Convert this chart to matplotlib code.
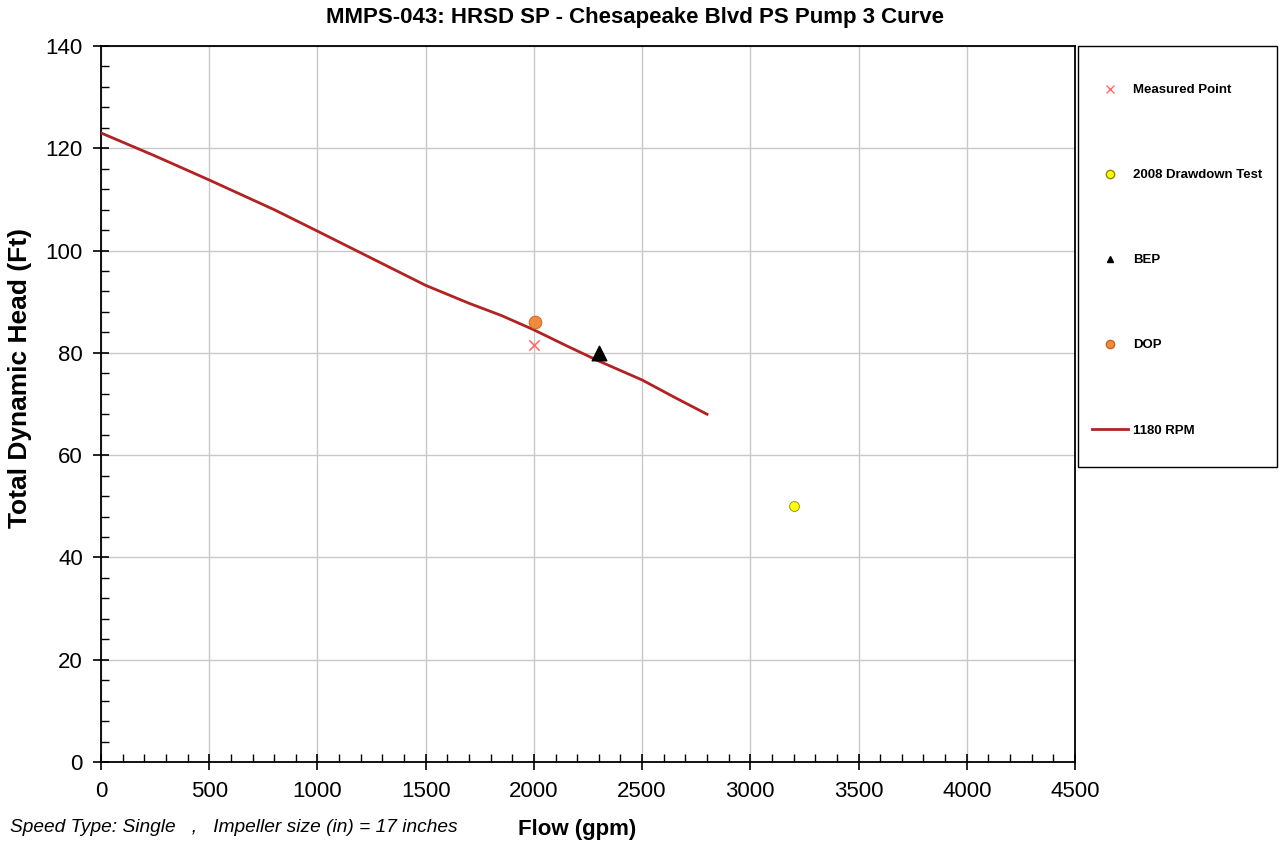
"""Pump curve for MMPS-043 Chesapeake Blvd PS Pump 3."""

import matplotlib

matplotlib.use("Agg")
import matplotlib.pyplot as plt
from matplotlib.lines import Line2D
from matplotlib.patches import Rectangle
from matplotlib.ticker import MultipleLocator

plt.rcParams["font.family"] = ["Liberation Sans", "DejaVu Sans"]

# 1180 RPM curve
curve_flow = [0, 250, 500, 800, 1000, 1250, 1500, 1700, 1850, 2000, 2150, 2300, 2500, 2650, 2800]
curve_head = [123.0, 118.5, 113.8, 108.0, 103.8, 98.5, 93.2, 89.7, 87.3, 84.5, 81.4, 78.4, 74.7, 71.3, 68.0]

measured_flow = [2000]
measured_head = [81.5]

drawdown_flow = [3200]
drawdown_head = [50]

bep_flow = [2300]
bep_head = [80]

dop_flow = [2005]
dop_head = [86]

TITLE = "MMPS-043: HRSD SP - Chesapeake Blvd PS Pump 3 Curve"
FOOTNOTE = "Speed Type: Single   ,   Impeller size (in) = 17 inches"

CURVE_COLOR = "#b22222"
W, H = 1281, 848


def main() -> None:
    fig = plt.figure(figsize=(W / 100, H / 100), dpi=100)
    ax = fig.add_axes([101 / W, 1 - 762 / H, 974 / W, 716 / H])

    ax.plot(curve_flow, curve_head, color=CURVE_COLOR, lw=2, zorder=3)
    ax.scatter(measured_flow, measured_head, marker="x", s=55, color="#ff6b6b", linewidths=1.2, zorder=4)
    ax.scatter(drawdown_flow, drawdown_head, marker="o", s=50, color="#ffff00", edgecolors="#8a8a00", linewidths=0.6, zorder=4)
    ax.scatter(bep_flow, bep_head, marker="^", s=110, color="black", zorder=4)
    ax.scatter(dop_flow, dop_head, marker="o", s=85, color="#f08a3c", edgecolors="#c86420", linewidths=0.6, zorder=4)

    ax.set_xlim(0, 4500)
    ax.set_ylim(0, 140)
    ax.xaxis.set_major_locator(MultipleLocator(500))
    ax.xaxis.set_minor_locator(MultipleLocator(100))
    ax.yaxis.set_major_locator(MultipleLocator(20))
    ax.yaxis.set_minor_locator(MultipleLocator(4))
    ax.tick_params(which="major", direction="inout", length=12, width=1.2, labelsize=16)
    ax.tick_params(which="minor", direction="in", length=6, width=1)
    ax.tick_params(axis="y", which="major", pad=7)
    ax.tick_params(axis="x", which="major", pad=8)
    ax.tick_params(top=False, right=False)
    ax.grid(True, which="major", color="#c8c8c8", lw=1)
    ax.set_axisbelow(True)
    for spine in ax.spines.values():
        spine.set_linewidth(1.3)
        spine.set_color("black")

    fig.text(635 / W, 1 - 18 / H, TITLE, fontsize=16, fontweight="bold", ha="center", va="center")
    fig.text(20 / W, 1 - 378 / H, "Total Dynamic Head (Ft)", fontsize=19, fontweight="bold",
             rotation=90, ha="center", va="center")
    fig.text(577 / W, 1 - 829 / H, "Flow (gpm)", fontsize=16, fontweight="bold", ha="center", va="center")
    fig.text(10 / W, 1 - 828 / H, FOOTNOTE, fontsize=13.8, style="italic", ha="left", va="center")

    # legend frame
    fig.patches.append(Rectangle((1078 / W, 1 - 467 / H), 199 / W, 421 / H, transform=fig.transFigure,
                                 facecolor="white", edgecolor="black", lw=1.0, zorder=1))

    handles = [
        Line2D([], [], ls="none", marker="x", color="#ff6b6b", markersize=6),
        Line2D([], [], ls="none", marker="o", color="#ffff00", markeredgecolor="#8a8a00", markersize=6),
        Line2D([], [], ls="none", marker="^", color="black", markersize=4),
        Line2D([], [], ls="none", marker="o", color="#f08a3c", markeredgecolor="#c86420", markersize=6),
        Line2D([], [], color=CURVE_COLOR, lw=2),
    ]
    labels = ["Measured Point", "2008 Drawdown Test", "BEP", "DOP", "1180 RPM"]
    fig.legend(
        handles,
        labels,
        loc="upper left",
        bbox_to_anchor=(1092 / W, 1 - 84 / H),
        prop={"size": 9.5, "weight": "bold"},
        labelspacing=5.52,
        handlelength=2.7,
        handletextpad=0.4,
        borderpad=0,
        borderaxespad=0,
        frameon=False,
    )

    fig.savefig("out.png", dpi=100)


if __name__ == "__main__":
    main()
